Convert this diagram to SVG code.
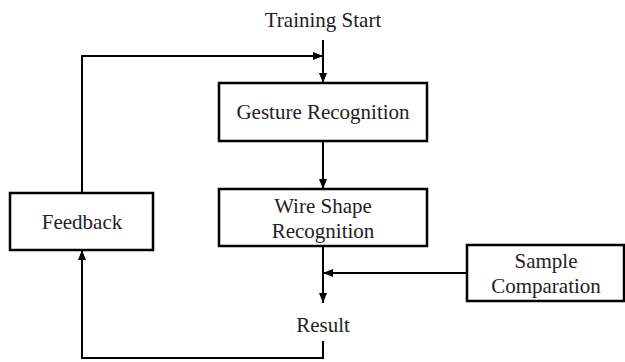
<svg xmlns="http://www.w3.org/2000/svg" width="625" height="362" viewBox="0 0 625 362">
<style>
.box{fill:#fff;stroke:#000;stroke-width:2.5}
.t{font-family:'Liberation Serif','Times New Roman','DejaVu Serif',serif;font-size:21px;fill:#222;text-anchor:middle}
.c{fill:none;stroke:#000;stroke-width:2}
</style>
<defs>
<marker id="a" viewBox="0 0 10 10" refX="10" refY="5" markerWidth="5" markerHeight="5" orient="auto" markerUnits="strokeWidth">
<path d="M0,1 L10,5 L0,9 z" fill="#000"/>
</marker>
</defs>
<rect width="625" height="362" fill="#fff"/>
<g id="connectors">
<path class="c" d="M323,40 V83" marker-end="url(#a)"/>
<path class="c" d="M82,193 V56 H323" marker-end="url(#a)"/>
<path class="c" d="M323,141 V189" marker-end="url(#a)"/>
<path class="c" d="M323,247 V303" marker-end="url(#a)"/>
<path class="c" d="M467,273 H323" marker-end="url(#a)"/>
<path class="c" d="M323,341 V358 H82 V250" marker-end="url(#a)"/>
</g>
<g id="start"><text class="t" font-family="Liberation Serif, serif" x="323" y="27">Training Start</text></g>
<g id="gesture"><rect class="box" x="219" y="83" width="208" height="58"/><text class="t" x="323" y="119">Gesture Recognition</text></g>
<g id="wire"><rect class="box" x="219" y="189" width="208" height="57"/><text class="t" x="323" y="213">Wire Shape</text><text class="t" x="323" y="238">Recognition</text></g>
<g id="result"><text class="t" x="323" y="332">Result</text></g>
<g id="feedback"><rect class="box" x="10" y="193" width="143" height="57"/><text class="t" x="82" y="229">Feedback</text></g>
<g id="sample"><rect class="box" x="467" y="245" width="157" height="56"/><text class="t" x="546" y="268">Sample</text><text class="t" x="546" y="293">Comparation</text></g>
</svg>
